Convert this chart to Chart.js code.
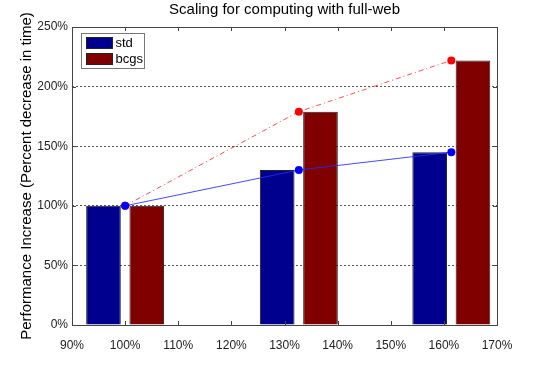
<!DOCTYPE html>
<html>
<head>
<meta charset="utf-8">
<script src="https://cdn.jsdelivr.net/npm/chart.js@4/dist/chart.umd.min.js"></script>
<style>
  html, body { margin: 0; padding: 0; background: #fff; }
  #wrap { width: 550px; height: 367px; }
</style>
</head>
<body>
<div id="wrap"><canvas id="chart" width="550" height="367"></canvas></div>
<script>
// data
const groupX = [100, 132.7, 161.4];          // x position of each group (%)
const stdValues = [100, 130, 145];
const bcgsValues = [100, 179, 222];
const xTicks = [90, 100, 110, 120, 130, 140, 150, 160, 170];
const yTicks = [0, 50, 100, 150, 200, 250];

const toPoints = (vals) => vals.map((v, i) => ({x: groupX[i], y: v}));

// box round the axes, with small inward tick marks (matlab style)
const boxPlugin = {
  id: 'box',
  afterDatasetsDraw(chart) {
    const {ctx, chartArea: a, scales} = chart;
    ctx.save();
    ctx.strokeStyle = '#444';
    ctx.lineWidth = 1;
    ctx.beginPath();
    scales.x.ticks.forEach((t, i) => {
      const px = Math.round(scales.x.getPixelForTick(i)) + 0.5;
      ctx.moveTo(px, a.bottom); ctx.lineTo(px, a.bottom - 4);
      ctx.moveTo(px, a.top); ctx.lineTo(px, a.top + 4);
    });
    scales.y.ticks.forEach((t, i) => {
      const py = Math.round(scales.y.getPixelForTick(i)) + 0.5;
      ctx.moveTo(a.left, py); ctx.lineTo(a.left + 4, py);
      ctx.moveTo(a.right, py); ctx.lineTo(a.right - 4, py);
    });
    ctx.stroke();
    ctx.strokeRect(Math.round(a.left) + 0.5, Math.round(a.top) + 0.5,
      Math.round(a.right - a.left), Math.round(a.bottom - a.top));
    ctx.restore();
  }
};

// boxed legend in the top left corner of the axes
const legendPlugin = {
  id: 'boxLegend',
  afterDraw(chart) {
    const {ctx, chartArea: a} = chart;
    const items = chart.data.datasets.filter(d => d.type !== 'line');
    const x0 = Math.round(a.left) + 9.5, y0 = Math.round(a.top) + 6.5;
    const w = 63, h = 35;
    ctx.save();
    ctx.fillStyle = '#fff';
    ctx.fillRect(x0, y0, w, h);
    ctx.strokeStyle = '#777';
    ctx.lineWidth = 1;
    ctx.strokeRect(x0, y0, w, h);
    ctx.font = '13px "Liberation Sans", Arial, sans-serif';
    ctx.textBaseline = 'middle';
    items.forEach((d, i) => {
      const sy = y0 + 4 + i * 16;
      ctx.fillStyle = d.backgroundColor;
      ctx.fillRect(x0 + 5, sy, 26, 11);
      ctx.strokeStyle = '#222';
      ctx.strokeRect(x0 + 5, sy, 26, 11);
      ctx.fillStyle = '#000';
      ctx.fillText(d.label, x0 + 34, sy + 6);
    });
    ctx.restore();
  }
};

new Chart(document.getElementById('chart').getContext('2d'), {
  type: 'bar',
  data: {
    datasets: [
      {
        type: 'line',
        label: 'std line',
        data: toPoints(stdValues),
        borderColor: 'rgba(40,40,255,0.85)',
        borderWidth: 1,
        pointRadius: 4,
        pointBorderWidth: 0,
        pointBackgroundColor: '#0000ff',
        order: 0
      },
      {
        type: 'line',
        label: 'bcgs line',
        data: toPoints(bcgsValues),
        borderColor: 'rgba(255,60,60,0.9)',
        borderWidth: 1,
        borderDash: [5, 3, 1, 3],
        pointRadius: 4,
        pointBorderWidth: 0,
        pointBackgroundColor: '#ff0000',
        order: 0
      },
      {
        label: 'std',
        data: toPoints(stdValues),
        backgroundColor: '#00008f',
        borderColor: '#222',
        borderWidth: 1,
        order: 1
      },
      {
        label: 'bcgs',
        data: toPoints(bcgsValues),
        backgroundColor: '#800000',
        borderColor: '#222',
        borderWidth: 1,
        order: 1
      }
    ]
  },
  options: {
    responsive: false,
    animation: false,
    categoryPercentage: 1.63,
    barPercentage: 0.8,
    layout: {padding: {left: 0, right: 53, top: 0, bottom: 0}},
    plugins: {
      legend: {display: false},
      tooltip: {enabled: false},
      title: {
        display: true,
        text: 'Scaling for computing with full-web',
        fullSize: false,
        color: '#000',
        font: {family: '"Liberation Sans", Arial, sans-serif', size: 15, weight: 'normal'},
        padding: {top: 1, bottom: 8}
      }
    },
    scales: {
      x: {
        type: 'linear',
        min: 90,
        max: 170,
        offset: false,
        afterBuildTicks: (s) => { s.ticks = xTicks.map(v => ({value: v})); },
        afterFit: (s) => { s.height = 42; },
        grid: {display: false},
        border: {display: false},
        ticks: {
          padding: 5,
          maxRotation: 0,
          color: '#222',
          font: {family: '"Liberation Sans", Arial, sans-serif', size: 12},
          callback: (v) => v + '%'
        }
      },
      y: {
        min: 0,
        max: 250,
        afterBuildTicks: (s) => { s.ticks = yTicks.map(v => ({value: v})); },
        afterFit: (s) => { s.width = 72; },
        grid: {
          color: (c) => (c.tick && c.tick.value === 0) ? 'rgba(0,0,0,0)' : '#555',
          drawTicks: false
        },
        border: {display: false, dash: [2, 2]},
        ticks: {
          padding: 4,
          color: '#222',
          font: {family: '"Liberation Sans", Arial, sans-serif', size: 12},
          callback: (v) => v + '%'
        },
        title: {
          display: true,
          text: 'Performance Increase (Percent decrease in time)',
          color: '#000',
          font: {family: '"Liberation Sans", Arial, sans-serif', size: 15},
          padding: {top: 18, bottom: 0}
        }
      }
    }
  },
  plugins: [boxPlugin, legendPlugin]
});
</script>
</body>
</html>
